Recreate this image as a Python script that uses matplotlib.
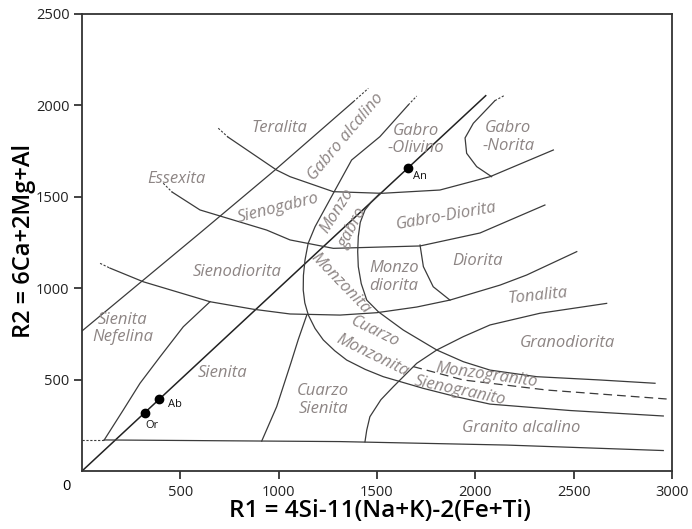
import matplotlib.pyplot as plt

plt.rcParams['font.family'] = ['Open Sans', 'DejaVu Sans']

# boundary curves of the R1-R2 diagram (R1, R2)
feldspar_r1 = [0, 2053]
feldspar_r2 = [0, 2053]

b_r1 = [0, 600, 981, 1380]
b_r2 = [766, 1302, 1646, 2020]
b_dash_r1 = [1380, 1456]
b_dash_r2 = [2020, 2093]

c_r1 = [113, 210, 295, 397, 515, 651]
c_r2 = [170, 334, 480, 625, 789, 926]

d_r1 = [1659, 1515, 1371, 1278, 1185, 1150, 1134, 1126, 1125, 1133, 1151, 1185, 1227, 1285, 1346, 1440, 1532,
        1736, 1905, 2075, 2481, 2956]
d_r2 = [2002, 1829, 1701, 1519, 1336, 1245, 1154, 1070, 990, 920, 853, 780, 717, 658, 607, 556, 516,
        452, 406, 366, 331, 301]
d_dash_r1 = [1659, 1702]
d_dash_r2 = [2002, 2051]

f_r1 = [1515, 1470, 1439, 1415, 1405, 1402, 1405, 1420, 1448, 1507, 1634, 1804, 1939, 2075, 2312, 2634, 2914]
f_r2 = [1519, 1470, 1428, 1360, 1282, 1200, 1118, 1025, 935, 871, 771, 662, 598, 552, 516, 498, 480]

i_r1 = [1439, 1448, 1464, 1520, 1583, 1702, 1804, 1939, 2075, 2329, 2668]
i_r2 = [160, 224, 297, 390, 461, 589, 662, 735, 799, 863, 917]

mzg_r1 = [1685, 1939, 2363, 2973]
mzg_r2 = [571, 498, 443, 394]

g1_r1 = [742, 990, 1058, 1278, 1524, 1820, 2075, 2397]
g1_r2 = [1827, 1646, 1610, 1528, 1519, 1537, 1610, 1756]
g1_dash_r1 = [693, 742]
g1_dash_r2 = [1875, 1827]

norita_r1 = [2100, 1990, 1948, 1956, 2007, 2083]
norita_r2 = [2026, 1902, 1822, 1738, 1665, 1610]
norita_dash_r1 = [2100, 2151]
norita_dash_r2 = [2026, 2056]

g2_r1 = [458, 600, 939, 1058, 1278, 1719, 2024, 2354]
g2_r2 = [1526, 1428, 1318, 1264, 1218, 1231, 1302, 1455]
g2_dash_r1 = [413, 458]
g2_dash_r2 = [1574, 1526]

g3_r1 = [142, 312, 651, 871, 1058, 1312, 1499, 1702, 1871, 2126, 2261, 2516]
g3_r2 = [1110, 1035, 926, 885, 859, 853, 866, 897, 935, 1017, 1072, 1200]
g3_dash_r1 = [92, 142]
g3_dash_r2 = [1136, 1110]

diorita_r1 = [1719, 1736, 1786, 1871]
diorita_r2 = [1236, 1118, 1008, 935]

j_r1 = [1143, 1100, 1062, 990, 914]
j_r2 = [853, 720, 590, 352, 164]

k_r1 = [113, 1312, 2160, 2956]
k_r2 = [170, 161, 142, 112]
k_dash_r1 = [0, 113]
k_dash_r2 = [170, 170]

# minerals on the feldspar line
min_names = ['Or', 'Ab', 'An']
min_r1 = [320, 392, 1660]
min_r2 = [320, 392, 1660]

# field names: text, R1, R2, rotation
field_text = ['Teralita', 'Gabro alcalino', 'Essexita', 'Sienogabro', 'Monzo', 'gabro',
              'Gabro\n-Olivino', 'Gabro\n-Norita', 'Gabro-Diorita', 'Sienodiorita',
              'Monzo\ndiorita', 'Diorita', 'Monzonita', 'Cuarzo', 'Monzonita',
              'Tonalita', 'Granodiorita', 'Monzogranito', 'Sienogranito',
              'Granito alcalino', 'Sienita', 'Sienita\nNefelina', 'Cuarzo\nSienita']
field_r1 = [1002, 1342, 478, 997, 1297, 1378, 1698, 2168, 1851, 788,
            1586, 2014, 1312, 1490, 1475, 2319, 2466, 2058, 1922,
            2232, 717, 208, 1226]
field_r2 = [1874, 1827, 1600, 1439, 1422, 1331, 1814, 1827, 1395, 1088,
            1061, 1148, 1028, 761, 634, 958, 700, 525, 438,
            235, 536, 780, 388]
field_rot = [0, 50, 0, 14, 58, 62, 0, 0, 10, 0,
             0, 0, -46, -26, -26, 6, 0, -8, -12,
             0, 0, 0, 0]

line_col = '#3b3b3b'
text_col = '#8d8584'

fig = plt.figure(figsize=(6.92, 5.29), dpi=100)
ax = fig.add_axes([0.1185, 0.1096, 0.8525, 0.864])

ax.plot(feldspar_r1, feldspar_r2, color='#222222', lw=1.1)
solid = [(b_r1, b_r2), (c_r1, c_r2), (d_r1, d_r2), (f_r1, f_r2), (i_r1, i_r2),
         (g1_r1, g1_r2), (norita_r1, norita_r2), (g2_r1, g2_r2), (g3_r1, g3_r2),
         (diorita_r1, diorita_r2), (j_r1, j_r2), (k_r1, k_r2)]
for xs, ys in solid:
    ax.plot(xs, ys, color=line_col, lw=0.9, solid_joinstyle='round')

dotted = [(b_dash_r1, b_dash_r2), (d_dash_r1, d_dash_r2), (g1_dash_r1, g1_dash_r2),
          (norita_dash_r1, norita_dash_r2), (g2_dash_r1, g2_dash_r2),
          (g3_dash_r1, g3_dash_r2), (k_dash_r1, k_dash_r2)]
for xs, ys in dotted:
    ax.plot(xs, ys, color=line_col, lw=0.8, ls=(0, (2, 1.5)))

ax.plot(mzg_r1, mzg_r2, color=line_col, lw=0.9, ls=(0, (7, 4)))

ax.plot(min_r1, min_r2, 'o', color='black', ms=6)
offsets = [(5, -9.5), (11.5, -3.5), (8.5, -6.5)]
for name, x, y, off in zip(min_names, min_r1, min_r2, offsets):
    ax.annotate(name, (x, y), xytext=off, textcoords='offset points',
                fontsize=8, color='#111111', ha='center', va='center')

for t, x, y, r in zip(field_text, field_r1, field_r2, field_rot):
    ax.text(x, y, t, rotation=r, rotation_mode='anchor', ha='center', va='center',
            fontsize=12, style='italic', color=text_col, linespacing=1.1)

ax.set_xlim(0, 3000)
ax.set_ylim(0, 2500)
ax.set_xticks([500, 1000, 1500, 2000, 2500, 3000])
ax.set_yticks([500, 1000, 1500, 2000, 2500])
ax.tick_params(direction='out', length=6, width=1.2, labelsize=10.5, colors='#222222', pad=3)
ax.tick_params(axis='x', pad=4)
ax.text(-78, -86, '0', ha='center', va='center', fontsize=10.5, clip_on=False)

for s in ax.spines.values():
    s.set_color('#333333')
    s.set_linewidth(1.3)

fig.text(380 / 692, 1 - 511 / 529, 'R1 = 4Si-11(Na+K)-2(Fe+Ti)', fontsize=17.5,
         fontweight='semibold', ha='center', va='center')
fig.text(24 / 692, 1 - 241 / 529, 'R2 = 6Ca+2Mg+Al', fontsize=17, rotation=90,
         fontweight='semibold', ha='center', va='center')

fig.savefig('out.png', dpi=100)
